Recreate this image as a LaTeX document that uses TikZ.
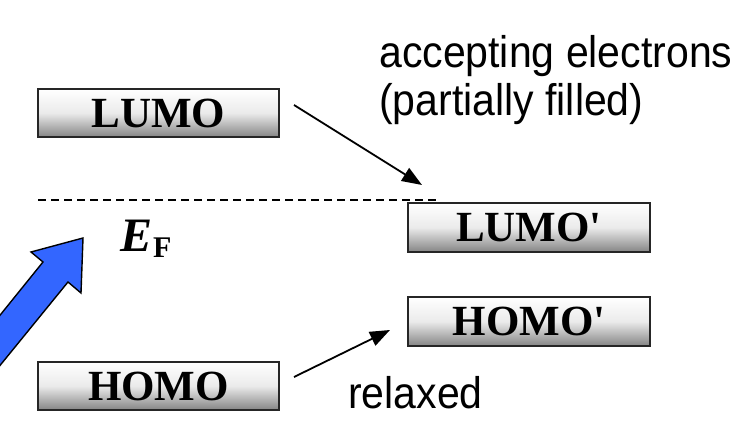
\documentclass[tikz,border=0pt]{standalone}
\usepackage{fontspec}
\setmainfont{Liberation Serif}
\newfontfamily\timesnl{Liberation Serif}[Ligatures=TeXOff]
\newfontfamily\arialfont{Liberation Sans}
\usetikzlibrary{arrows.meta}
\definecolor{arrowblue}{RGB}{51,102,255}
\tikzset{
  level/.style={draw=black!85, line width=1.4pt, minimum width=241pt, minimum height=48pt,
    inner sep=0pt, top color=white, bottom color=black!48, middle color=black!8,
    font=\timesnl\fontsize{43}{43}\selectfont\bfseries},
  lbl/.style={font=\arialfont\fontsize{41}{48}\selectfont, inner sep=0pt, anchor=base west},
  conn/.style={line width=1.8pt, -{Triangle[length=20pt,width=15pt]}},
}
\newcommand{\tallt}[1]{\scalebox{1}[1.08]{#1}}
\begin{document}
\begin{tikzpicture}[x=1pt,y=-1pt]
\useasboundingbox (0,0) rectangle (741,428);
\node[level] (lumo) at (158.5,113) {LUMO};
\node[level] (homo) at (158.5,386) {HOMO};
\node[level, minimum width=242pt, minimum height=49pt] (lumop) at (529,227.5) {LUMO'};
\node[level, minimum width=242pt, minimum height=49pt] (homop) at (529,321.5) {HOMO'};
\coordinate (fl) at (38,200);
\coordinate (fr) at (440,200);
\draw[line width=1.8pt, dash pattern=on 8pt off 5pt] (fl) -- (fr);
\node[inner sep=0pt, anchor=base west] (ef) at (120,251) {\fontsize{48}{48}\selectfont\bfseries\itshape E\kern1pt\raisebox{-6pt}{\fontsize{30}{30}\selectfont\upshape F}};
\node[lbl] (acc) at (379,67) {\tallt{accepting electrons}};
\node[lbl] (part) at (379,115) {\tallt{(partially filled)}};
\node[lbl] (rel) at (348,408) {\tallt{relaxed}};
\coordinate (a1s) at (294,105);
\coordinate (a1e) at (422,185);
\coordinate (a2s) at (294,377);
\coordinate (a2e) at (390,330);
\draw[conn] (a1s) -- (a1e);
\draw[conn] (a2s) -- (a2e);
\draw[fill=arrowblue, line width=1.4pt, line join=miter]
  (-20,340) -- (43,262) -- (31,252) -- (83,238) -- (81,293) -- (68,282) -- (-20,390) -- cycle;
\end{tikzpicture}
\end{document}
